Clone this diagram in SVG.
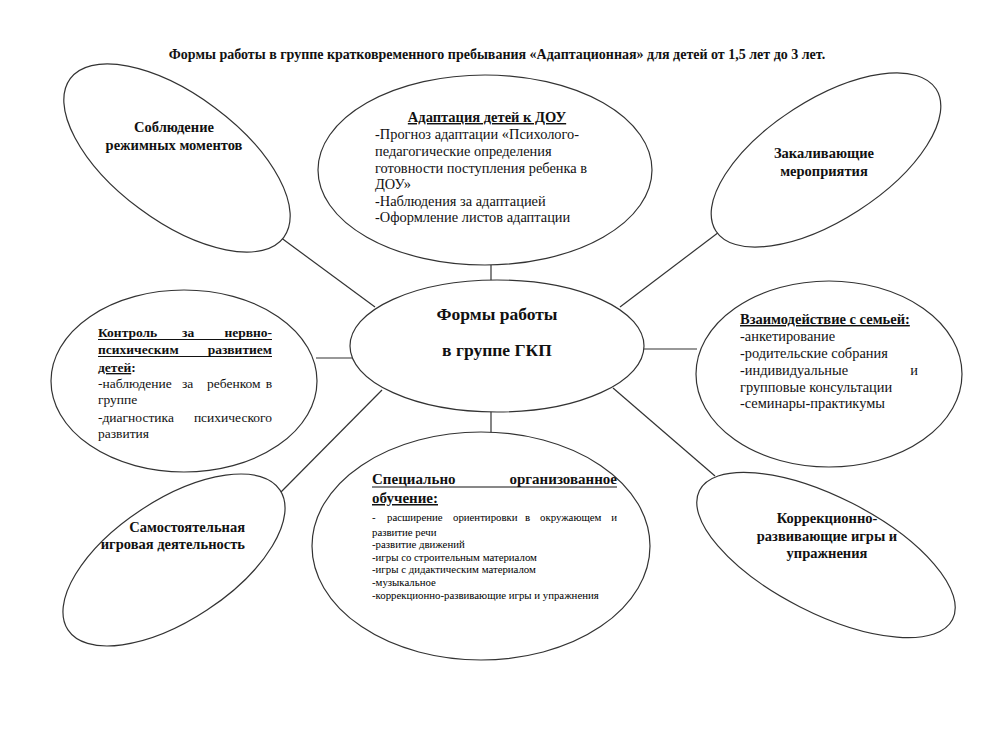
<svg xmlns="http://www.w3.org/2000/svg" width="989" height="732" viewBox="0 0 989 732">
<style>
.h{font-size:14.5px;font-weight:bold}
.r{font-size:14.4px}
.k{font-size:13.5px}
.kh{font-size:13.5px;font-weight:bold}
.s{font-size:10.8px}
.node{fill:#fff;stroke:#333;stroke-width:1.2}
.conn line{stroke:#333;stroke-width:1.2}
.ul{stroke:#111;stroke-width:1}
</style>
<rect width="989" height="732" fill="#fff"/>
<g font-family="Liberation Serif, DejaVu Serif, serif" fill="#111">
<text x="497" y="59" text-anchor="middle" font-weight="bold" font-size="14">Формы работы в группе кратковременного пребывания «Адаптационная» для детей от 1,5 лет до 3 лет.</text>

<g class="conn" id="connectors">
<line x1="280" y1="237" x2="375" y2="307"/>
<line x1="491" y1="265" x2="491" y2="281"/>
<line x1="620" y1="307" x2="723" y2="229"/>
<line x1="316" y1="358" x2="352" y2="358"/>
<line x1="644" y1="349" x2="697" y2="349"/>
<line x1="382" y1="390" x2="280" y2="493"/>
<line x1="491" y1="411" x2="491" y2="433"/>
<line x1="613" y1="388" x2="715" y2="476"/>
</g>

<g id="center">
<ellipse class="node" cx="497" cy="346" rx="147" ry="66"/>
<text x="497" y="320" text-anchor="middle" font-weight="bold" font-size="17.5">Формы работы</text>
<text x="497" y="356" text-anchor="middle" font-weight="bold" font-size="17.5">в группе ГКП</text>
</g>

<g id="rezhim">
<ellipse class="node" cx="177" cy="158" rx="133" ry="63" transform="rotate(36.6 177 158)"/>
<text x="174" y="132" text-anchor="middle" class="h">Соблюдение</text>
<text x="174" y="150" text-anchor="middle" class="h">режимных моментов</text>
</g>

<g id="adaptatsiya">
<ellipse class="node" cx="485" cy="170" rx="167" ry="95"/>
<text x="487" y="122" text-anchor="middle" class="h" text-decoration="underline">Адаптация детей к ДОУ</text>
<text class="r">
<tspan x="375" y="139">-Прогноз адаптации «Психолого-</tspan>
<tspan x="375" y="156">педагогические определения</tspan>
<tspan x="375" y="173">готовности поступления ребенка в</tspan>
<tspan x="375" y="189">ДОУ»</tspan>
<tspan x="375" y="206">-Наблюдения за адаптацией</tspan>
<tspan x="375" y="222">-Оформление листов адаптации</tspan>
</text>
</g>

<g id="zakalivanie">
<ellipse class="node" cx="826" cy="160" rx="131" ry="60" transform="rotate(-32.8 826 160)"/>
<text x="824" y="158" text-anchor="middle" class="h">Закаливающие</text>
<text x="824" y="176" text-anchor="middle" class="h">мероприятия</text>
</g>

<g id="kontrol">
<ellipse class="node" cx="184" cy="381" rx="133" ry="91"/>
<text x="98" y="337" class="kh">Контроль</text>
<text x="182" y="337" class="kh">за</text>
<text x="272" y="337" class="kh" text-anchor="end">нервно-</text>
<line class="ul" x1="98" y1="339.5" x2="272" y2="339.5"/>
<text x="98" y="354" class="kh">психическим</text>
<text x="272" y="354" class="kh" text-anchor="end">развитием</text>
<line class="ul" x1="98" y1="356.5" x2="272" y2="356.5"/>
<text x="98" y="372" class="kh"><tspan text-decoration="underline">детей</tspan>:</text>
<text x="98" y="388" class="k">-наблюдение</text>
<text x="182" y="388" class="k">за</text>
<text x="207" y="388" class="k">ребенком</text>
<text x="272" y="388" class="k" text-anchor="end">в</text>
<text x="98" y="404" class="k">группе</text>
<text x="98" y="422" class="k">-диагностика</text>
<text x="272" y="422" class="k" text-anchor="end">психического</text>
<text x="98" y="438" class="k">развития</text>
</g>

<g id="semya">
<ellipse class="node" cx="829" cy="374" rx="133" ry="93"/>
<text x="740" y="324" class="h" text-decoration="underline">Взаимодействие с семьей:</text>
<text class="r">
<tspan x="740" y="341">-анкетирование</tspan>
<tspan x="740" y="358">-родительские собрания</tspan>
<tspan x="740" y="375">-индивидуальные</tspan>
<tspan x="740" y="392">групповые консультации</tspan>
<tspan x="740" y="408">-семинары-практикумы</tspan>
</text>
<text x="918" y="375" class="r" text-anchor="end">и</text>
</g>

<g id="samostoyatelnaya">
<ellipse class="node" cx="174" cy="560" rx="127" ry="60" transform="rotate(-33.4 174 560)"/>
<text x="245" y="532" text-anchor="end" class="h" font-size="14">Самостоятельная</text>
<text x="245" y="549" text-anchor="end" class="h" font-size="14">игровая деятельность</text>
</g>

<g id="obuchenie">
<ellipse class="node" cx="481" cy="546" rx="169" ry="114"/>
<text x="372" y="484" font-weight="bold" font-size="15">Специально</text>
<text x="617" y="484" font-weight="bold" font-size="15" text-anchor="end">организованное</text>
<line class="ul" x1="372" y1="487" x2="617" y2="487"/>
<text x="372" y="503" font-weight="bold" font-size="15" text-decoration="underline">обучение:</text>
<g class="s" fill="#000">
<text x="372" y="521">-</text>
<text x="387" y="521">расширение</text>
<text x="453" y="521">ориентировки</text>
<text x="525" y="521">в</text>
<text x="540" y="521">окружающем</text>
<text x="617" y="521" text-anchor="end">и</text>
<text>
<tspan x="372" y="536">развитие речи</tspan>
<tspan x="372" y="548">-развитие движений</tspan>
<tspan x="372" y="561">-игры со строительным материалом</tspan>
<tspan x="372" y="573">-игры с дидактическим материалом</tspan>
<tspan x="372" y="586">-музыкальное</tspan>
<tspan x="372" y="599">-коррекционно-развивающие игры и упражнения</tspan>
</text>
</g>
</g>

<g id="korrektsiya">
<ellipse class="node" cx="826" cy="555" rx="142" ry="58" transform="rotate(27 826 555)"/>
<text x="827" y="523" text-anchor="middle" class="h">Коррекционно-</text>
<text x="827" y="541" text-anchor="middle" class="h">развивающие игры и</text>
<text x="827" y="558" text-anchor="middle" class="h">упражнения</text>
</g>
</g>
</svg>
